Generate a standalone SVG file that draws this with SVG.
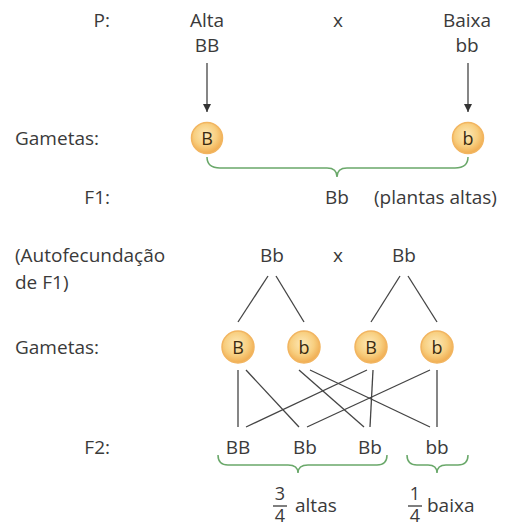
<svg xmlns="http://www.w3.org/2000/svg" width="508" height="527" viewBox="0 0 508 527">
<defs>
<radialGradient id="g" cx="0.45" cy="0.4" r="0.6">
<stop offset="0" stop-color="#fde9b8"/>
<stop offset="0.6" stop-color="#f8cf80"/>
<stop offset="1" stop-color="#f0ac50"/>
</radialGradient>
<marker id="ah" viewBox="0 0 10 10" refX="10" refY="5" markerWidth="8" markerHeight="8" markerUnits="userSpaceOnUse" orient="auto">
<path d="M0,0 L10,5 L0,10 z" fill="#333"/>
</marker>
<style>
text{font-family:"Open Sans","Liberation Sans",sans-serif;font-size:19px;fill:#3a3a3a}
.m{text-anchor:middle}
.r{text-anchor:end}
.gc{fill:url(#g);stroke:#f2b560;stroke-width:1.5}
.gt{font-size:18px;text-anchor:middle;fill:#3a2a10}
.fr{font-size:18px}
.ln{stroke:#444;stroke-width:1.3;fill:none}
.br{stroke:#6aa86a;stroke-width:1.5;fill:none}
</style>
</defs>
<g id="labels">
<text class="r" x="110" y="27">P:</text>
<text x="15" y="145">Gametas:</text>
<text class="r" x="110" y="204">F1:</text>
<text x="15" y="262">(Autofecundação</text>
<text x="15" y="289">de F1)</text>
<text x="15" y="354">Gametas:</text>
<text class="r" x="110" y="454">F2:</text>
</g>
<g id="p-alta"><text class="m" x="207" y="27">Alta</text><text class="m" x="207" y="52">BB</text></g>
<g id="p-x"><text class="m" x="338" y="27">x</text></g>
<g id="p-baixa"><text class="m" x="467" y="27">Baixa</text><text class="m" x="467" y="52">bb</text></g>
<g id="gam-B"><circle class="gc" cx="207" cy="138" r="15.5"/><text class="gt" x="207" y="144.5">B</text></g>
<g id="gam-b"><circle class="gc" cx="468" cy="138" r="15.5"/><text class="gt" x="468" y="144.5">b</text></g>
<g id="f1"><text class="m" x="337" y="204">Bb</text><text x="374" y="204">(plantas altas)</text></g>
<g id="f1-bb1"><text class="m" x="272" y="262">Bb</text></g>
<g id="f1-x"><text class="m" x="338" y="262">x</text></g>
<g id="f1-bb2"><text class="m" x="404" y="262">Bb</text></g>
<g id="g2-1"><circle class="gc" cx="238" cy="347" r="16"/><text class="gt" x="238" y="353.5">B</text></g>
<g id="g2-2"><circle class="gc" cx="304" cy="347" r="16"/><text class="gt" x="304" y="353.5">b</text></g>
<g id="g2-3"><circle class="gc" cx="371" cy="347" r="16"/><text class="gt" x="371" y="353.5">B</text></g>
<g id="g2-4"><circle class="gc" cx="437" cy="347" r="16"/><text class="gt" x="437" y="353.5">b</text></g>
<g id="f2-1"><text class="m" x="238" y="454">BB</text></g>
<g id="f2-2"><text class="m" x="305" y="454">Bb</text></g>
<g id="f2-3"><text class="m" x="370" y="454">Bb</text></g>
<g id="f2-4"><text class="m" x="437" y="454">bb</text></g>
<g id="ratio-altas"><text class="m fr" x="280" y="500">3</text><line x1="273" y1="506" x2="287" y2="506" stroke="#3a3a3a" stroke-width="1.3"/><text class="m fr" x="280" y="522">4</text><text x="295" y="512">altas</text></g>
<g id="ratio-baixa"><text class="m fr" x="415" y="500">1</text><line x1="408" y1="506" x2="422" y2="506" stroke="#3a3a3a" stroke-width="1.3"/><text class="m fr" x="415" y="522">4</text><text x="427" y="512">baixa</text></g>
<g id="connectors">
<line class="ln" x1="207" y1="63" x2="207" y2="112" marker-end="url(#ah)"/>
<line class="ln" x1="468" y1="63" x2="468" y2="112" marker-end="url(#ah)"/>
<path class="br" d="M207,157 Q207,168 220,168 L327,168 Q337,168 337,177 Q337,168 347,168 L455,168 Q468,168 468,157"/>
<line class="ln" x1="268" y1="276" x2="238" y2="322"/>
<line class="ln" x1="276" y1="276" x2="304" y2="322"/>
<line class="ln" x1="400" y1="276" x2="371" y2="322"/>
<line class="ln" x1="408" y1="276" x2="437" y2="322"/>
<line class="ln" x1="238" y1="370" x2="238" y2="427"/>
<line class="ln" x1="246" y1="370" x2="299" y2="427"/>
<line class="ln" x1="299" y1="370" x2="364" y2="427"/>
<line class="ln" x1="310" y1="370" x2="430" y2="427"/>
<line class="ln" x1="367" y1="370" x2="246" y2="427"/>
<line class="ln" x1="373" y1="370" x2="370" y2="427"/>
<line class="ln" x1="430" y1="370" x2="307" y2="427"/>
<line class="ln" x1="437" y1="370" x2="437" y2="427"/>
<path class="br" d="M218,455 Q218,465 228,465 L288,465 Q298,465 298,473 Q298,465 308,465 L377,465 Q387,465 387,455"/>
<path class="br" d="M407,455 Q407,465 417,465 L428,465 Q437,465 437,473 Q437,465 446,465 L458,465 Q468,465 468,455"/>
</g>
</svg>
